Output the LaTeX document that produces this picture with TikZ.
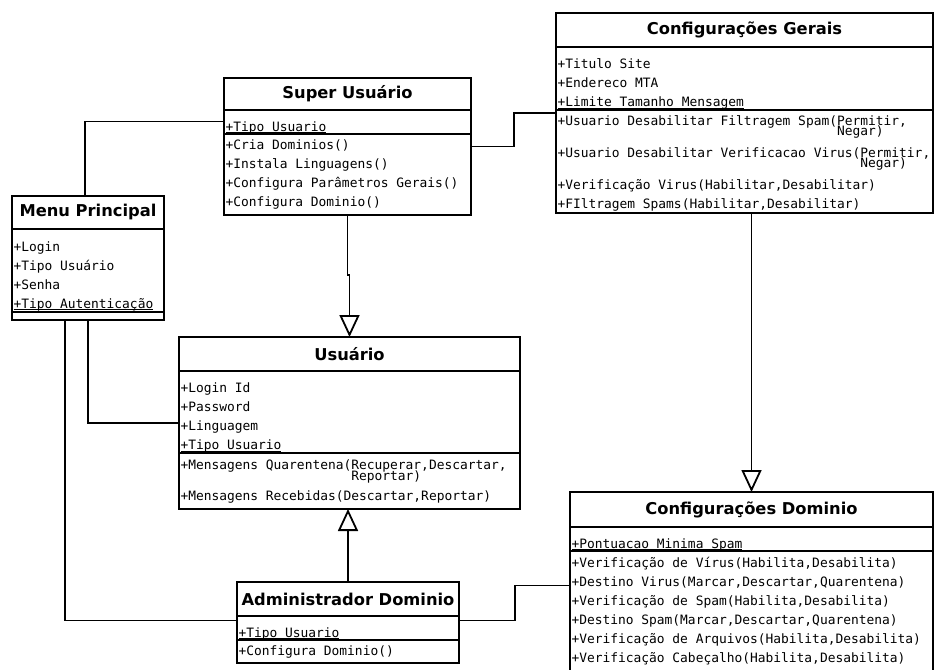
\documentclass[tikz,border=0pt]{standalone}
\usepackage{fontspec}
\newfontfamily\namefont{DejaVu Sans}
\newfontfamily\memberfont{DejaVu Sans Mono}
\usepackage{tikz}
\usetikzlibrary{positioning}
\usetikzlibrary{fit}
\usetikzlibrary{arrows.meta}

\tikzset{
  classname/.style={draw, line width=1.8pt, outer sep=0pt, anchor=north west, inner sep=0pt,
    font=\namefont\bfseries\fontsize{16.3}{18}\selectfont},
  classpart/.style={draw, line width=1.8pt, outer sep=0pt, inner xsep=1.5pt, inner ysep=0pt, align=left,
    font=\memberfont\fontsize{12.9}{19}\selectfont,
    execute at begin node={\spaceskip=0.602em\relax}},
  attrpart/.style={classpart, execute at begin node={\vrule height 20pt width 0pt\relax}},
  classbox/.style={inner sep=0pt, outer sep=0pt},
  inherits/.style={line width=1.8pt, -{Triangle[open, length=22pt, width=20pt]}},
  assoc/.style={line width=1.8pt},
}

\begin{document}
\begin{tikzpicture}[x=1pt, y=-1pt]
\useasboundingbox (0,0) rectangle (936,669);
% super usuario
\node[classname, minimum width=247, minimum height=32] (superT) at (224,78) {Super Usuário};
\node[attrpart, text width=244pt, minimum height=24, below=0pt of superT] (superA) {\underline{\smash{+Tipo Usuario}}};
\node[classpart, text width=244pt, minimum height=81, below=0pt of superA] (superM) {+Cria Dominios()\\+Instala Linguagens()\\+Configura Parâmetros Gerais()\\+Configura Dominio()};
\node[classbox, fit=(superT)(superM)] (super) {};
% configuracoes gerais
\node[classname, minimum width=377, minimum height=34] (geraisT) at (556,13) {Configurações Gerais};
\node[attrpart, text width=374pt, minimum height=63, below=0pt of geraisT] (geraisA) {+Titulo Site\\+Endereco MTA\\\underline{\smash{+Limite Tamanho Mensagem}}};
\node[classpart, text width=374pt, minimum height=103, below=0pt of geraisA] (geraisM) {\vrule height 13pt width 0pt+Usuario Desabilitar Filtragem Spam(Permitir,\\[-9pt]\phantom{+Usuario Desabilitar Filtragem Spam(}Negar)\\[3pt]+Usuario Desabilitar Verificacao Virus(Permitir,\\[-9pt]\phantom{+Usuario Desabilitar Verificacao Virus(}Negar)\\[3pt]+Verificação Virus(Habilitar,Desabilitar)\\+FIltragem Spams(Habilitar,Desabilitar)};
\node[classbox, fit=(geraisT)(geraisM)] (gerais) {};
% menu principal
\node[classname, minimum width=152, minimum height=33] (menuT) at (12,196) {Menu Principal};
\node[attrpart, text width=149pt, minimum height=83, below=0pt of menuT] (menuA) {+Login\\+Tipo Usuário\\+Senha\\\underline{\smash{+Tipo Autenticação}}};
\node[classpart, text width=149pt, minimum height=8, below=0pt of menuA] (menuM) {};
\node[classbox, fit=(menuT)(menuM)] (menu) {};
% usuario
\node[classname, minimum width=341, minimum height=34] (usuarioT) at (179,337) {Usuário};
\node[attrpart, text width=338pt, minimum height=82, below=0pt of usuarioT] (usuarioA) {+Login Id\\+Password\\+Linguagem\\\underline{\smash{+Tipo Usuario}}};
\node[classpart, text width=338pt, minimum height=56, below=0pt of usuarioA] (usuarioM) {+Mensagens Quarentena(Recuperar,Descartar,\\[-8pt]\phantom{+Mensagens Quarentena(}Reportar)\\[1pt]+Mensagens Recebidas(Descartar,Reportar)};
\node[classbox, fit=(usuarioT)(usuarioM)] (usuario) {};
% administrador dominio
\node[classname, minimum width=222, minimum height=34] (adminT) at (237,582) {Administrador Dominio};
\node[attrpart, text width=219pt, minimum height=24, below=0pt of adminT] (adminA) {\underline{\smash{+Tipo Usuario}}};
\node[classpart, text width=219pt, minimum height=23, below=0pt of adminA] (adminM) {+Configura Dominio()};
\node[classbox, fit=(adminT)(adminM)] (admin) {};
% configuracoes dominio
\node[classname, minimum width=363, minimum height=35] (dominioT) at (570,492) {Configurações Dominio};
\node[attrpart, text width=360pt, minimum height=24, below=0pt of dominioT] (dominioA) {\underline{\smash{+Pontuacao Minima Spam}}};
\node[classpart, text width=360pt, minimum height=128, below=0pt of dominioA] (dominioM) {+Verificação de Vírus(Habilita,Desabilita)\\+Destino Virus(Marcar,Descartar,Quarentena)\\+Verificação de Spam(Habilita,Desabilita)\\+Destino Spam(Marcar,Descartar,Quarentena)\\+Verificação de Arquivos(Habilita,Desabilita)\\+Verificação Cabeçalho(Habilita,Desabilita)\vrule depth 10pt width 0pt};
\node[classbox, fit=(dominioT)(dominioM)] (dominio) {};
% generalizations
\draw[inherits] (super.south) -- ++(0,60) -| (usuario.north);
\draw[inherits] (admin.north) -- (admin.north |- usuario.south);
\draw[inherits] (gerais.south -| dominio.north) -- (dominio.north);
% associations
\draw[assoc] ([xshift=-3pt]menu.north) |- ([yshift=25pt]super.west);
\draw[assoc] (menu.south) |- (usuario.west);
\draw[assoc] ([xshift=-23pt]menu.south) |- ([yshift=2pt]admin.west);
\draw[assoc] (super.east) -- ++(43,0) |- (gerais.west);
\draw[assoc] ([yshift=2pt]admin.east) -- ++(56,0) |- (dominio.west);
\end{tikzpicture}
\end{document}
